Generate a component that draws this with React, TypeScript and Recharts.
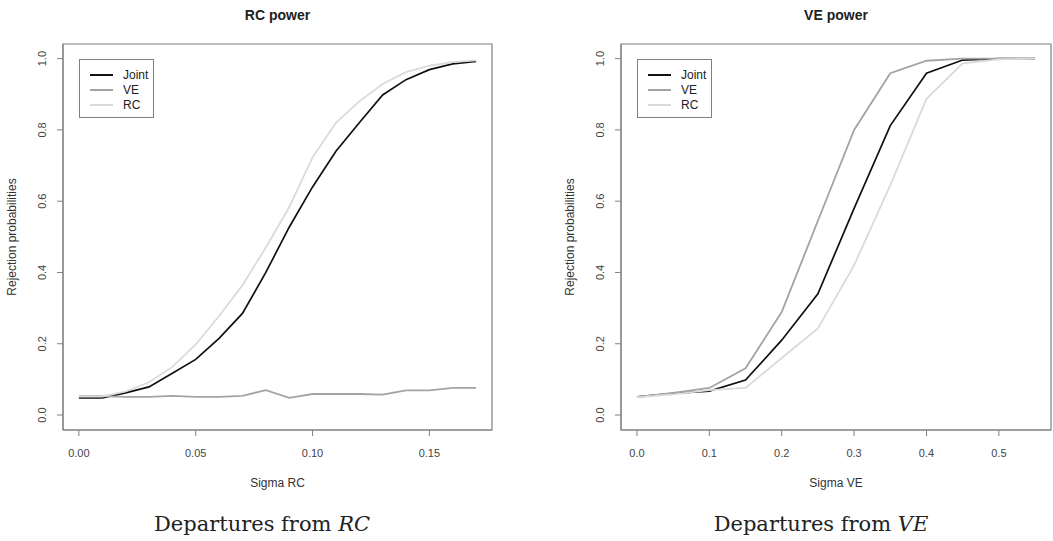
import { LineChart, Line, XAxis, YAxis, ReferenceArea } from "recharts";

// Left panel: departures from RC
const sigmaRC = [0, 0.01, 0.02, 0.03, 0.04, 0.05, 0.06, 0.07, 0.08, 0.09, 0.1, 0.11, 0.12, 0.13, 0.14, 0.15, 0.16, 0.17];
const rcJoint = [0.048, 0.048, 0.062, 0.079, 0.117, 0.156, 0.215, 0.285, 0.4, 0.527, 0.64, 0.74, 0.82, 0.898, 0.941, 0.969, 0.985, 0.992];
const rcVE = [0.053, 0.053, 0.051, 0.051, 0.054, 0.051, 0.051, 0.054, 0.07, 0.048, 0.059, 0.059, 0.059, 0.057, 0.069, 0.069, 0.076, 0.076];
const rcRC = [0.052, 0.052, 0.066, 0.092, 0.135, 0.198, 0.278, 0.364, 0.47, 0.583, 0.723, 0.82, 0.88, 0.929, 0.962, 0.98, 0.99, 0.995];

// Right panel: departures from VE
const sigmaVE = [0, 0.05, 0.1, 0.15, 0.2, 0.25, 0.3, 0.35, 0.4, 0.45, 0.5, 0.55];
const veJoint = [0.051, 0.061, 0.067, 0.098, 0.21, 0.34, 0.58, 0.812, 0.959, 0.996, 1, 1];
const veVE = [0.05, 0.062, 0.076, 0.131, 0.289, 0.545, 0.8, 0.959, 0.994, 1, 1, 1];
const veRC = [0.05, 0.058, 0.07, 0.076, 0.16, 0.243, 0.42, 0.645, 0.887, 0.987, 0.998, 1];

const yTicks = [0, 0.2, 0.4, 0.6, 0.8, 1.0];
const rcTicks = [0, 0.05, 0.1, 0.15];
const veTicks = [0, 0.1, 0.2, 0.3, 0.4, 0.5];
const seriesNames = ["Joint", "VE", "RC"];

const COLORS = ["#111111", "#a3a3a3", "#dadada"];
const BOX = "#808080";
const SANS = "'Liberation Sans', Arial, sans-serif";
const Y_DOMAIN: [number, number] = [-0.042, 1.041];

function rows(xs: number[], a: number[], b: number[], c: number[]) {
  return xs.map((x, i) => ({ x, joint: a[i], ve: b[i], rc: c[i] }));
}

// R draws y tick labels parallel to the axis
const YTick = (props: any) => {
  const { x, y, payload } = props;
  return (
    <text
      x={x}
      y={y}
      transform={`rotate(-90, ${x}, ${y})`}
      textAnchor="middle"
      fontFamily={SANS}
      fontSize={11}
      fill="#444"
    >
      {payload.value.toFixed(1)}
    </text>
  );
};

interface PanelProps {
  left: number;
  width: number;
  plotLeft: number;
  plotRight: number;
  data: { x: number; joint: number; ve: number; rc: number }[];
  xDomain: [number, number];
  xTicks: number[];
  digits: number;
  title: string;
  xLabel: string;
  caption: string;
  captionX: number;
}

function Panel(p: PanelProps) {
  const cx = (p.plotLeft + p.plotRight) / 2;
  const text = (style: React.CSSProperties, children: React.ReactNode, rotate = false) => (
    <div
      style={{
        position: "absolute",
        whiteSpace: "nowrap",
        lineHeight: 1,
        transform: `translate(-50%, -50%)${rotate ? " rotate(-90deg)" : ""}`,
        ...style,
      }}
    >
      {children}
    </div>
  );
  return (
    <>
      <div style={{ position: "absolute", left: p.left, top: 0 }}>
        <LineChart
          width={p.width}
          height={541}
          data={p.data}
          margin={{ top: 44, right: p.left + p.width - p.plotRight, bottom: 0, left: 0 }}
        >
          <XAxis
            type="number"
            dataKey="x"
            domain={p.xDomain}
            allowDataOverflow
            ticks={p.xTicks}
            interval={0}
            tickFormatter={(v: number) => v.toFixed(p.digits)}
            height={111}
            tickSize={6}
            tickMargin={13}
            stroke={BOX}
            tick={{ fill: "#444", fontSize: 11, fontFamily: SANS }}
          />
          <YAxis
            type="number"
            domain={Y_DOMAIN}
            allowDataOverflow
            ticks={yTicks}
            interval={0}
            width={p.plotLeft - p.left}
            tickSize={6}
            tickMargin={11}
            stroke={BOX}
            tick={<YTick />}
          />
          <ReferenceArea
            x1={p.xDomain[0]}
            x2={p.xDomain[1]}
            y1={Y_DOMAIN[0]}
            y2={Y_DOMAIN[1]}
            fill="none"
            stroke={BOX}
            strokeWidth={1.2}
          />
          <Line dataKey="joint" stroke={COLORS[0]} strokeWidth={1.7} dot={false} isAnimationActive={false} />
          <Line dataKey="ve" stroke={COLORS[1]} strokeWidth={1.8} dot={false} isAnimationActive={false} />
          <Line dataKey="rc" stroke={COLORS[2]} strokeWidth={1.8} dot={false} isAnimationActive={false} />
        </LineChart>
      </div>
      {/* legend box, top-left inside the plot */}
      <div
        style={{
          position: "absolute",
          left: p.plotLeft + 16,
          top: 59,
          width: 75,
          height: 59,
          boxSizing: "border-box",
          border: `1px solid ${BOX}`,
          background: "#fff",
          padding: "7px 0 0 10px",
          fontFamily: SANS,
          fontSize: 12,
          color: "#222",
        }}
      >
        {seriesNames.map((name, i) => (
          <div key={name} style={{ display: "flex", alignItems: "center", height: 15 }}>
            <div style={{ width: 23, height: 2, background: COLORS[i], marginRight: 10 }} />
            <span>{name}</span>
          </div>
        ))}
      </div>
      {text({ left: cx, top: 15, fontFamily: SANS, fontSize: 14, fontWeight: "bold", color: "#222" }, p.title)}
      {text({ left: cx, top: 483, fontFamily: SANS, fontSize: 12, color: "#333" }, p.xLabel)}
      {text({ left: p.plotLeft - 51, top: 237, fontFamily: SANS, fontSize: 12, color: "#333" }, "Rejection probabilities", true)}
      {text(
        { left: p.captionX, top: 524, fontFamily: "'DejaVu Serif', serif", fontSize: 21, color: "#222" },
        <>
          Departures from <i>{p.caption}</i>
        </>
      )}
    </>
  );
}

export default function App() {
  return (
    <div style={{ position: "absolute", left: 0, top: 0, width: 1053, height: 541, background: "#fff" }}>
      <Panel
        left={0}
        width={527}
        plotLeft={63}
        plotRight={492}
        data={rows(sigmaRC, rcJoint, rcVE, rcRC)}
        xDomain={[-0.0068, 0.1768]}
        xTicks={rcTicks}
        digits={2}
        title="RC power"
        xLabel="Sigma RC"
        caption="RC"
        captionX={262}
      />
      <Panel
        left={527}
        width={526}
        plotLeft={621}
        plotRight={1051}
        data={rows(sigmaVE, veJoint, veVE, veRC)}
        xDomain={[-0.022, 0.572]}
        xTicks={veTicks}
        digits={1}
        title="VE power"
        xLabel="Sigma VE"
        caption="VE"
        captionX={821}
      />
    </div>
  );
}
